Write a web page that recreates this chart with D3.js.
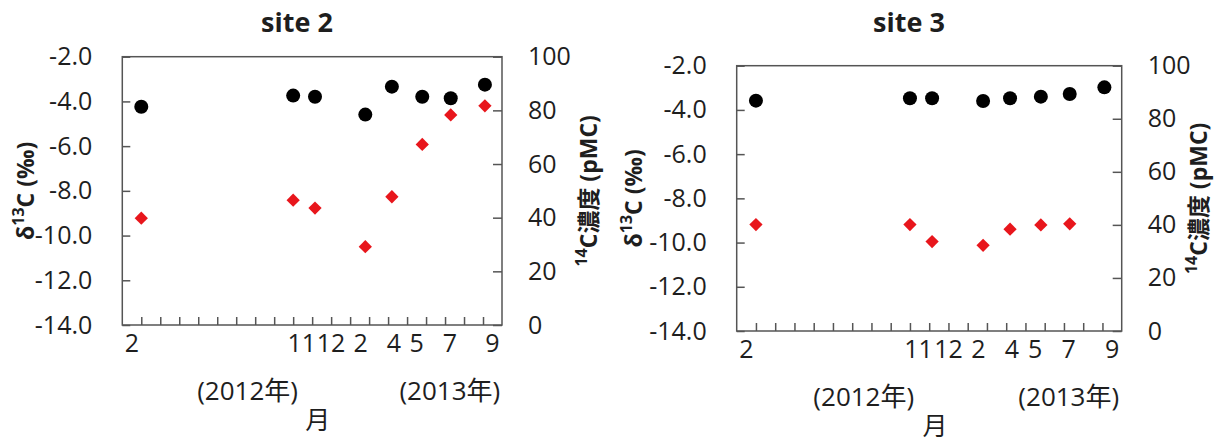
<!DOCTYPE html>
<html>
<head>
<meta charset="utf-8">
<script src="https://cdn.jsdelivr.net/npm/d3@7"></script>
<style>
  body { margin: 0; background: #fff; }
  text { font-family: "Open Sans", "Noto Sans CJK JP", sans-serif; fill: #1e1e1e; }
</style>
</head>
<body>
<script>

// month labels under the x axis, one per sampling
var monthLabels = ["2", "11", "12", "2", "4", "5", "7", "9"];
// sampling position along the x axis (axis has 20 minor steps)
var sampleX = [1.0, 9.0, 10.15, 12.8, 14.2, 15.8, 17.3, 19.1];
// where the month labels sit along that axis
var labelX = [0.5, 9.45, 11.0, 12.55, 14.3, 15.5, 17.25, 19.5];
var yearLabels = ["(2012年)", "(2013年)"];
var yearX = [6.6, 17.25];

var site2d13C = [-4.24, -3.74, -3.79, -4.59, -3.34, -3.79, -3.86, -3.25];
var site2pMC  = [39.8, 46.5, 43.6, 29.2, 47.8, 67.3, 78.3, 81.7];
var site3d13C = [-3.58, -3.47, -3.47, -3.60, -3.47, -3.40, -3.28, -2.98];
var site3pMC  = [40.1, 40.1, 33.7, 32.3, 38.4, 40.0, 40.4, null];

var d13cTicks = [-14, -12, -10, -8, -6, -4, -2];
var pmcTicks = [0, 20, 40, 60, 80, 100];

var svg = d3.select("body").append("svg")
    .attr("width", 1221)
    .attr("height", 445);

function drawPanel(p) {
  var x = d3.scaleLinear().domain([0, 20]).range([p.left, p.right]);
  var y = d3.scaleLinear().domain([-14, -2]).range([p.bottom, p.top]);
  var y2 = d3.scaleLinear().domain([0, 100]).range([p.bottom, p.top]);

  var g = svg.append("g");

  // title
  g.append("text")
    .attr("x", p.titleX)
    .attr("y", 32)
    .attr("text-anchor", "middle")
    .attr("font-size", "27px")
    .attr("font-weight", "bold")
    .text(p.title);

  // left axis
  var ga = g.append("g")
    .attr("transform", "translate(" + p.left + ",0)")
    .call(d3.axisLeft(y).tickValues(d13cTicks).tickSize(-8).tickPadding(30)
      .tickFormat(function(d) { return d.toFixed(1); }));
  ga.select(".domain").remove();
  ga.selectAll("text").attr("font-size", "25px").attr("font-family", null).attr("fill", "#1e1e1e");
  ga.selectAll("line").attr("stroke", "#555").attr("stroke-width", 1.5);

  // right axis
  var gb = g.append("g")
    .attr("transform", "translate(" + p.right + ",0)")
    .call(d3.axisRight(y2).tickValues(pmcTicks).tickSize(-9).tickPadding(26));
  gb.select(".domain").remove();
  gb.selectAll("text").attr("font-size", "25px").attr("font-family", null).attr("fill", "#1e1e1e");
  gb.selectAll("line").attr("stroke", "#555").attr("stroke-width", 1.5);

  // bottom minor ticks
  var gc = g.append("g")
    .attr("transform", "translate(0," + p.bottom + ")")
    .call(d3.axisBottom(x).tickValues(d3.range(1, 20)).tickSize(-8).tickFormat(""));
  gc.select(".domain").remove();
  gc.selectAll("line").attr("stroke", "#555").attr("stroke-width", 1.5);

  // box
  g.append("rect")
    .attr("x", p.left)
    .attr("y", p.top)
    .attr("width", p.right - p.left)
    .attr("height", p.bottom - p.top)
    .attr("fill", "none")
    .attr("stroke", "#555")
    .attr("stroke-width", 1.5);

  // month labels
  g.selectAll(".mon")
    .data(monthLabels)
    .enter()
    .append("text")
    .attr("x", function(d, i) { return x(labelX[i]); })
    .attr("y", p.bottom + 27)
    .attr("text-anchor", "middle")
    .attr("font-size", "25px")
    .text(function(d) { return d; });

  g.selectAll(".yr")
    .data(yearLabels)
    .enter()
    .append("text")
    .attr("x", function(d, i) { return x(yearX[i]); })
    .attr("y", p.bottom + 75)
    .attr("text-anchor", "middle")
    .attr("font-size", "26px")
    .text(function(d) { return d; });

  g.append("text")
    .attr("x", x(10.3))
    .attr("y", p.bottom + 104)
    .attr("text-anchor", "middle")
    .attr("font-size", "25px")
    .text("月");

  // axis titles
  var t1 = g.append("text")
    .attr("transform", "translate(" + p.ltX + "," + ((p.top + p.bottom) / 2) + ") rotate(-90)")
    .attr("text-anchor", "middle")
    .attr("dominant-baseline", "middle")
    .attr("font-size", "23px")
    .attr("font-weight", "bold");
  t1.append("tspan").text("δ");
  t1.append("tspan").attr("font-size", "16px").attr("dy", "-8").text("13");
  t1.append("tspan").attr("dy", "8").text("C (‰)");

  var t2 = g.append("text")
    .attr("transform", "translate(" + p.rtX + "," + ((p.top + p.bottom) / 2) + ") rotate(-90)")
    .attr("text-anchor", "middle")
    .attr("dominant-baseline", "middle")
    .attr("font-size", "23px")
    .attr("font-weight", "bold");
  t2.append("tspan").attr("font-size", "16px").attr("dy", "-8").text("14");
  t2.append("tspan").attr("dy", "8").text("C濃度 (pMC)");

  // red diamonds (pMC, right axis)
  var diamond = d3.symbol().type(d3.symbolSquare).size(88);
  g.selectAll(".pmc")
    .data(p.pmc.map(function(v, i) { return {x: sampleX[i], v: v}; })
      .filter(function(d) { return d.v != null; }))
    .enter()
    .append("path")
    .attr("d", diamond)
    .attr("transform", function(d) { return "translate(" + x(d.x) + "," + y2(d.v) + ") rotate(45)"; })
    .attr("fill", "#e8161c");

  // black circles (d13C, left axis)
  g.selectAll(".d13")
    .data(p.d13c.map(function(v, i) { return {x: sampleX[i], v: v}; }))
    .enter()
    .append("circle")
    .attr("cx", function(d) { return x(d.x); })
    .attr("cy", function(d) { return y(d.v); })
    .attr("r", 7)
    .attr("fill", "#000");
}

drawPanel({ title: "site 2", left: 122.3, right: 502, top: 56.7, bottom: 325,
  titleX: 297, ltX: 28, rtX: 591, d13c: site2d13C, pmc: site2pMC });
drawPanel({ title: "site 3", left: 736.7, right: 1121.7, top: 65.7, bottom: 331,
  titleX: 909, ltX: 636, rtX: 1201, d13c: site3d13C, pmc: site3pMC });

</script>
</body>
</html>
